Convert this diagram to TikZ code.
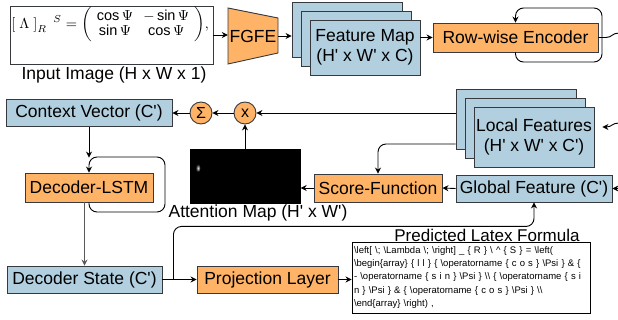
\documentclass[tikz,border=0pt]{standalone}
\usepackage{fontspec}
\setmainfont{Liberation Sans}[Ligatures=TeXOff]
\usetikzlibrary{arrows.meta}
\definecolor{boxblue}{RGB}{177,207,222}
\definecolor{boxorange}{RGB}{255,179,102}
\definecolor{edgecol}{RGB}{54,57,61}
\newcommand\bsl{\textbackslash}
\begin{document}
\begin{tikzpicture}[x=1pt,y=-1pt,
  box/.style={draw=edgecol, line width=0.9pt, inner sep=0pt, align=center, font=\fontsize{17.5}{20}\selectfont},
  bluebox/.style={box, fill=boxblue},
  orangebox/.style={box, fill=boxorange},
  arr/.style={draw=black, line width=0.9pt, -{Stealth[length=6pt,width=6pt,inset=2pt]}},
  plainline/.style={draw=black, line width=0.9pt},
  op/.style={circle, draw=edgecol, fill=boxorange, line width=0.9pt, minimum size=22pt, inner sep=0pt, font=\fontsize{16}{16}\selectfont},
  lbl/.style={inner sep=0pt, font=\fontsize{17.5}{20}\selectfont},
]
\useasboundingbox (0,0) rectangle (618,320);

% input image
\node[box, fill=white, minimum width=203pt, minimum height=58pt] (input) at (111.5,35) {};
\node[anchor=west, inner sep=0pt, font=\fontsize{10}{12}\selectfont, scale=1.45] (formula) at (11,24.5)
  {$\arraycolsep=3.5pt\renewcommand\arraystretch{0.86}\left[\;\Lambda\;\right]_{R}\ ^{S}=\biggl(\begin{array}{cc}\cos\Psi & -\sin\Psi\\ \sin\Psi & \cos\Psi\end{array}\biggr),$};
\node[lbl] (inlbl) at (114,75) {Input Image (H x W x 1)};

% FGFE trapezoid
\coordinate (t1) at (228,8);
\coordinate (t2) at (278,18);
\coordinate (t3) at (278,53);
\coordinate (t4) at (228,64);
\filldraw[fill=boxorange, draw=edgecol, line width=0.9pt] (t1) -- (t2) -- (t3) -- (t4) -- cycle;
\node[inner sep=0pt, minimum width=50pt, minimum height=56pt, font=\fontsize{17.5}{20}\selectfont] (fgfe) at (253,36) {FGFE};

% feature map stack
\node[bluebox, minimum width=110pt, minimum height=55pt] (fm3) at (347,29.5) {};
\node[bluebox, minimum width=110pt, minimum height=55pt] (fm2) at (356,38.5) {};
\node[bluebox, minimum width=110pt, minimum height=55pt] (fm1) at (365,47.5) {Feature Map\\(H' x W' x C)};

% encoder
\node[orangebox, minimum width=165pt, minimum height=29pt] (enc) at (515.5,37.5) {Row-wise Encoder};

\draw[arr] (input.east) -- (fgfe.west |- input.east);
\draw[arr] (fgfe.east) -- (fm3.west |- fgfe.east);
\draw[arr] (fm1.east |- enc.west) -- (enc.west);
\draw[arr, rounded corners=8pt] (enc.south) |- (602,62) -- (602,8) -| (enc.north);
\coordinate (encout) at (619,33);
\draw[plainline] (enc.east) -- (606,37.5) .. controls (612,37.5) and (612,33) .. (encout);

% local features stack
\node[bluebox, minimum width=120pt, minimum height=60pt] (lf3) at (516,119) {};
\node[bluebox, minimum width=120pt, minimum height=60pt] (lf2) at (525,128) {};
\node[bluebox, minimum width=120pt, minimum height=60pt] (lf1) at (534,137) {Local Features\\(H' x W' x C')};
\coordinate (lfin) at (619,123);
\draw[arr] (lfin) .. controls (612,123) and (612,127) .. ([xshift=8pt,yshift=10pt]lf1.east);

% operators and context
\node[op] (mul) at (245,113) {x};
\node[op] (sum) at (201,113) {Σ};
\node[bluebox, minimum width=166pt, minimum height=27pt] (ctx) at (89,113) {Context Vector (C')};
\draw[arr] ([yshift=6pt]lf3.west) -- (mul.east);
\draw[arr] (mul.west) -- (sum.east);
\draw[arr] (sum.west) -- (ctx.east);

% attention map
\node[fill=black, minimum width=111pt, minimum height=55pt, inner sep=0pt] (attn) at (245,176.5) {};
\shade[inner color=white!85!black, outer color=black] (198,168) ellipse [x radius=2.5pt, y radius=4pt];
\draw[arr] (attn.north) -- (mul.south);
\node[lbl] (attnlbl) at (258,213) {Attention Map (H' x W')};

% score and global
\node[orangebox, minimum width=128pt, minimum height=28pt] (score) at (378,188) {Score-Function};
\node[bluebox, minimum width=156pt, minimum height=27pt] (glob) at (534,188.5) {Global Feature (C')};
\draw[arr] (glob.west) -- (score.east);
\draw[arr] (score.west) -- (attn.east |- score.west);
\coordinate (globin) at (619,188.5);
\draw[arr] (globin) -- (glob.east);
\draw[arr, rounded corners=8pt] ([yshift=-25pt]lf3.west) -| (score.north);

% decoder
\node[orangebox, minimum width=128pt, minimum height=29pt] (lstm) at (89,187.5) {Decoder-LSTM};
\draw[arr] (ctx.south) -- ([yshift=15pt]lstm.north);
\draw[arr, rounded corners=8pt] (lstm.south) |- (165,212) -- (165,157) -| (lstm.north);
\node[bluebox, minimum width=155pt, minimum height=27pt] (dstate) at (84.5,279.5) {Decoder State (C')};
\draw[arr, draw=black!65] (dstate.north |- lstm.south) -- (dstate.north);
\node[orangebox, minimum width=141pt, minimum height=27pt] (proj) at (267.5,279.5) {Projection Layer};
\draw[arr] (dstate.east) -- (proj.west);
\draw[arr, rounded corners=8pt] ([xshift=11pt]dstate.east) |- ([yshift=-24pt]glob.south) -- (glob.south);

% predicted formula
\node[draw=black, line width=0.9pt, fill=white, minimum width=238pt, minimum height=71pt, inner xsep=2pt, inner ysep=2pt, align=left, text width=234pt, font=\fontsize{9.5}{13.3}\selectfont] (pred) at (471,277.5)
{\bsl left[ \bsl; \bsl Lambda \bsl; \bsl right] \_ \{ R \} \bsl\ \textasciicircum{} \{ S \} = \bsl left(\\
\bsl begin\{array\} \{ l l \} \{ \bsl operatorname \{ c o s \} \bsl Psi \} \& \{\\
- \bsl operatorname \{ s i n \} \bsl Psi \} \bsl\bsl\ \{ \bsl operatorname \{ s i\\
n \} \bsl Psi \} \& \{ \bsl operatorname \{ c o s \} \bsl Psi \} \bsl\bsl\\
\bsl end\{array\} \bsl right) ,};
\draw[arr] (proj.east) -- (pred.west |- proj.east);
\node[lbl, font=\fontsize{17}{20}\selectfont] (predlbl) at (487,235) {Predicted Latex Formula};
\end{tikzpicture}
\end{document}
